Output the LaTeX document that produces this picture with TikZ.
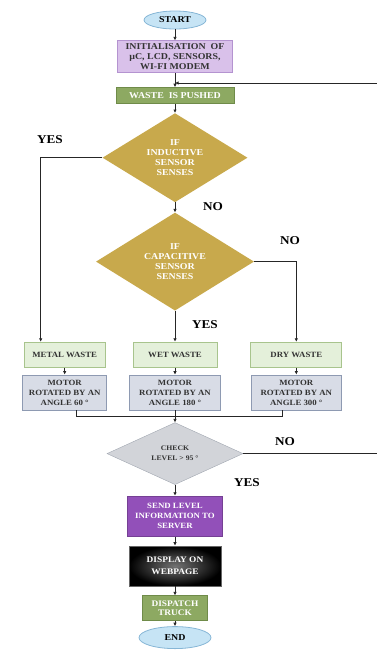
\documentclass[tikz,border=0pt]{standalone}
\usepackage{fontspec}
\setmainfont{Liberation Serif}[FakeStretch=1.1]
\usepackage{tikz}
\usetikzlibrary{arrows.meta,positioning,shapes.geometric}
\definecolor{capsule}{HTML}{C6E4F5}
\definecolor{capsuleline}{HTML}{86B6D6}
\definecolor{lilac}{HTML}{D9C1EA}
\definecolor{lilacline}{HTML}{B493D0}
\definecolor{olive}{HTML}{8DA962}
\definecolor{oliveline}{HTML}{6F8B49}
\definecolor{gold}{HTML}{C8A94C}
\definecolor{mint}{HTML}{E4F0DA}
\definecolor{mintline}{HTML}{A8C48D}
\definecolor{steel}{HTML}{D8DCE6}
\definecolor{steelline}{HTML}{8E9AB2}
\definecolor{silver}{HTML}{D2D4D9}
\definecolor{silverline}{HTML}{A0A6B0}
\definecolor{violet}{HTML}{9250B9}

\begin{document}
\begin{tikzpicture}[
  x=1pt, y=1pt,
  font=\bfseries,
  base/.style={align=center, inner sep=1pt},
  capsule/.style={base, ellipse, draw=capsuleline, fill=capsule, thick,
    font=\bfseries\fontsize{9}{10}\selectfont},
  box/.style={base, rectangle, draw, thick},
  choice/.style={base, diamond, draw=none, fill=gold, text=white,
    inner sep=0pt, font=\bfseries\fontsize{9}{10}\selectfont},
  lbl/.style={font=\bfseries\fontsize{12}{14}\selectfont},
  line/.style={line width=1pt, draw=black!85},
  arr/.style={line, -{Latex[length=3.5pt, width=3.5pt]}}
]
\useasboundingbox (0,0) rectangle (377,-657);
\coordinate (rim) at (377,0);

% top of the chart
\node[capsule, minimum width=62, minimum height=18] (start) at (175,-20) {START};
\node[box, below=11pt of start, draw=lilacline, fill=lilac, text=black!80,
  minimum width=115, minimum height=32,
  font=\bfseries\fontsize{9}{10}\selectfont] (init)
  {INITIALISATION \ OF\\µC, LCD, SENSORS,\\WI-FI MODEM};
\node[box, below=14pt of init, draw=oliveline, fill=olive, text=white,
  minimum width=118, minimum height=16,
  font=\bfseries\fontsize{9}{10}\selectfont] (waste) {WASTE \ IS PUSHED};

% sensor decisions
\node[choice, below=9pt of waste, shape aspect=1.63,
  minimum width=145, minimum height=89] (ind)
  {IF\\INDUCTIVE\\SENSOR\\SENSES};
\node[choice, below=10pt of ind, shape aspect=1.61,
  minimum width=158, minimum height=98] (cap)
  {IF\\CAPACITIVE\\SENSOR\\SENSES};

% sorted waste
\tikzset{bin/.style={box, draw=mintline, fill=mint, text=black!80,
    minimum width=84, minimum height=25,
    font=\bfseries\fontsize{8}{9}\selectfont},
  motor/.style={box, draw=steelline, fill=steel, text=black!80,
    minimum width=87, minimum height=35,
    font=\bfseries\fontsize{8}{10}\selectfont}}
\node[bin, below=31pt of cap] (wet) {WET WASTE};
\node[bin, left=27pt of wet, minimum width=81] (metal) {METAL WASTE};
\node[bin, right=33pt of wet, minimum width=91] (dry) {DRY WASTE};
\node[motor, below=7pt of metal, minimum width=84] (mmetal) {MOTOR\\ROTATED BY AN\\ANGLE 60 °};
\node[motor, below=7pt of wet, minimum width=91] (mwet) {MOTOR\\ROTATED BY AN\\ANGLE 180 °};
\node[motor, below=7pt of dry, minimum width=90] (mdry) {MOTOR\\ROTATED BY AN\\ANGLE 300 °};
\coordinate[below=6pt of mwet] (join);

% level check and reporting
\node[choice, below=6pt of join, shape aspect=2.19, fill=silver,
  draw=silverline, thin, text=black!80,
  minimum width=136, minimum height=62,
  font=\bfseries\fontsize{7}{10}\selectfont] (check) {CHECK\\LEVEL > 95 °};
\node[box, below=11pt of check, draw=violet!80!black, fill=violet, text=white,
  minimum width=95, minimum height=40,
  font=\bfseries\fontsize{8}{10}\selectfont] (send)
  {SEND LEVEL\\INFORMATION TO\\SERVER};
\node[box, below=9pt of send, draw=black!60, inner color=black!55, outer color=black,
  text=white, minimum width=92, minimum height=40,
  font=\bfseries\fontsize{8.5}{12}\selectfont] (show) {DISPLAY ON\\WEBPAGE};
\node[box, below=9pt of show, draw=oliveline, fill=olive, text=white,
  minimum width=65, minimum height=25,
  font=\bfseries\fontsize{8.5}{9}\selectfont] (truck) {DISPATCH\\TRUCK};
\node[capsule, below=5pt of truck, minimum width=72, minimum height=22] (finish) {END};

% branch labels
\node[lbl] (yes1) at (50,-140) {YES};
\node[lbl] (no1) at (213,-207) {NO};
\node[lbl] (no2) at (290,-241) {NO};
\node[lbl] (yes2) at (205,-325) {YES};
\node[lbl] (no3) at (285,-442) {NO};
\node[lbl] (yes3) at (247,-483) {YES};

% connectors
\draw[arr] (start) -- (init);
\draw[arr] (init) -- (waste);
\draw[arr] (rim |- 0,-83) -- (init.south |- 0,-83);
\draw[arr] (waste) -- (ind);
\draw[arr] (ind) -- (cap);
\draw[arr] (ind.west) -| ([xshift=-24pt]metal.north);
\draw[arr] (cap) -- (wet);
\draw[arr] (cap.east) -| (dry.north);
\draw[arr] (metal) -- (mmetal);
\draw[arr] (wet) -- (mwet);
\draw[arr] (dry) -- (mdry);
\draw[line] ([xshift=12pt]mmetal.south) |- ([xshift=-14pt]mdry.south |- join)
  -- ([xshift=-14pt]mdry.south);
\draw[line] (mwet) -- (join);
\draw[arr] (join) -- (check);
\draw[line] (check.east) -- (check.east -| rim);
\draw[arr] (check) -- (send);
\draw[arr] (send) -- (show);
\draw[arr] (show) -- (truck);
\draw[arr] (truck) -- (finish);
\end{tikzpicture}
\end{document}
